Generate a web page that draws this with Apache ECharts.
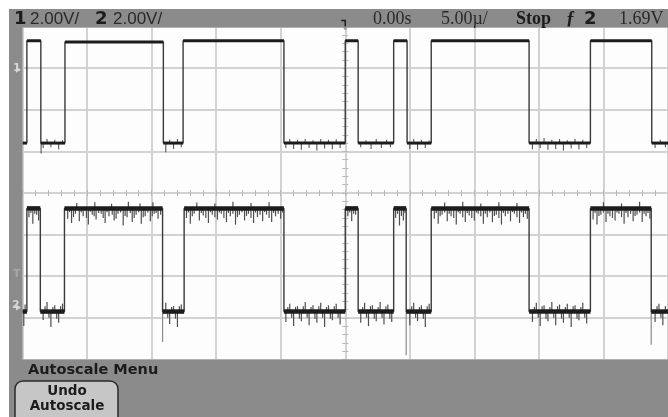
<!DOCTYPE html>
<html>
<head>
<meta charset="utf-8">
<script src="https://cdn.jsdelivr.net/npm/echarts@6.0.0/dist/echarts.min.js"></script>
<style>
  html, body { margin: 0; padding: 0; background: #ffffff; }
  #scope { width: 668px; height: 417px; }
</style>
</head>
<body>
<div id="scope"></div>
<script>
// Timebase 5 us/div (10 divisions), vertical 8 divisions, values in divisions from screen centre.
const timeRange = [-25, 25];
const divRange = [-4, 4];

// Channel 1: edge times (us) and the level (div) held in each segment between edges
const ch1Edges = [-24.66, -23.58, -21.71, -14.09, -12.56, -4.75, 0, 1.0, 3.75, 4.79, 6.66, 14.24, 18.99, 23.74];
const ch1Levels = [1.2, 3.66, 1.2, 3.63, 1.2, 3.66, 1.2, 3.66, 1.2, 3.66, 1.2, 3.66, 1.2, 3.66, 1.2];

// Channel 2: edge times (us) and levels (div)
const ch2Edges = [-24.66, -23.62, -21.75, -14.15, -12.48, -4.75, 0, 1.0, 3.75, 4.72, 6.66, 14.24, 18.99, 23.7];
const ch2Levels = [-2.85, -0.37, -2.85, -0.37, -2.85, -0.37, -2.85, -0.37, -2.85, -0.37, -2.85, -0.37, -2.85, -0.37, -2.85];

// Noise excursions [time, tip] on channel 1 low level
const ch1Noise = [
  [-23.4, 1.08], [-23.1, 1.3], [-22.8, 1.1], [-22.5, 1.28], [-22.2, 1.05], [-21.9, 1.27],
  [-13.9, 0.98], [-13.6, 1.28], [-13.3, 1.06], [-13.0, 1.3], [-12.7, 1.1],
  [-4.6, 1.08], [-4.3, 1.3], [-4.0, 1.06], [-3.7, 1.28], [-3.4, 1.04], [-3.1, 1.3], [-2.8, 1.08],
  [-2.5, 1.27], [-2.2, 1.02], [-1.9, 1.3], [-1.6, 1.07], [-1.3, 1.28], [-1.0, 1.05], [-0.7, 1.29], [-0.4, 1.08],
  [1.2, 1.1], [1.6, 1.27], [2.0, 1.06], [2.4, 1.3], [2.8, 1.08], [3.2, 1.28], [3.5, 1.1],
  [5.0, 1.06], [5.3, 1.3], [5.6, 1.04], [5.9, 1.28], [6.2, 1.08], [6.5, 1.26],
  [14.5, 1.05], [14.8, 1.3], [15.1, 1.08], [15.4, 1.32], [15.7, 1.04], [16.0, 1.28], [16.3, 1.06],
  [16.6, 1.3], [16.9, 1.02], [17.2, 1.27], [17.5, 1.07], [17.8, 1.3], [18.1, 1.05], [18.4, 1.28], [18.7, 1.08],
  [24.0, 1.08], [24.4, 1.28], [24.8, 1.1],
  [-23.56, 0.95]
];

// Noise excursions [time, tip] on channel 2 high level
const ch2HighNoise = [
  [-24.5, -0.58], [-24.35, -0.48], [-24.2, -0.74], [-24.05, -0.5], [-23.9, -0.52], [-23.75, -0.66],
  [-21.5, -0.62], [-21.35, -0.46], [-21.2, -0.72], [-21.05, -0.58], [-20.9, -0.5], [-20.6, -0.68],
  [-20.45, -0.47], [-20.3, -0.56], [-20.05, -0.6], [-19.9, -0.76], [-19.75, -0.45], [-19.6, -0.52],
  [-19.45, -0.56], [-19.3, -0.64], [-19.1, -0.48], [-18.9, -0.5], [-18.75, -0.6], [-18.6, -0.72],
  [-18.45, -0.46], [-18.3, -0.56], [-18.05, -0.52], [-17.9, -0.66], [-17.75, -0.62], [-17.6, -0.5],
  [-17.4, -0.47], [-17.2, -0.78], [-17.05, -0.55], [-16.9, -0.58], [-16.65, -0.48], [-16.5, -0.7],
  [-16.35, -0.6], [-16.2, -0.52], [-16.0, -0.46], [-15.8, -0.74], [-15.65, -0.58], [-15.5, -0.56],
  [-15.3, -0.47], [-15.1, -0.68], [-14.95, -0.56], [-14.8, -0.5], [-14.65, -0.48], [-14.5, -0.62], [-14.3, -0.52],
  [-20.8, -0.24], [-19.4, -0.22], [-18.1, -0.26], [-16.8, -0.21], [-15.9, -0.25], [-14.9, -0.22],
  [-12.3, -0.6], [-12.15, -0.47], [-12.0, -0.74], [-11.85, -0.56], [-11.7, -0.5], [-11.3, -0.66],
  [-11.15, -0.48], [-11.0, -0.54], [-10.8, -0.6], [-10.6, -0.72], [-10.45, -0.46], [-10.3, -0.52],
  [-10.1, -0.58], [-9.9, -0.64], [-9.75, -0.47], [-9.6, -0.5], [-9.4, -0.6], [-9.2, -0.7],
  [-9.05, -0.48], [-8.9, -0.56], [-8.7, -0.5], [-8.5, -0.76], [-8.35, -0.58], [-8.2, -0.52],
  [-8.0, -0.46], [-7.8, -0.66], [-7.65, -0.55], [-7.5, -0.5], [-7.3, -0.6], [-7.1, -0.72],
  [-6.95, -0.47], [-6.8, -0.58], [-6.6, -0.52], [-6.4, -0.68], [-6.25, -0.46], [-6.1, -0.52],
  [-5.9, -0.6], [-5.7, -0.7], [-5.55, -0.48], [-5.4, -0.56], [-5.2, -0.5], [-5.0, -0.62], [-4.85, -0.47],
  [-11.5, -0.23], [-10.1, -0.25], [-8.7, -0.21], [-7.3, -0.24], [-5.9, -0.22],
  [0.2, -0.56], [0.35, -0.47], [0.5, -0.68], [0.65, -0.5], [0.8, -0.52],
  [3.9, -0.6], [4.05, -0.5], [4.2, -0.78], [4.35, -0.55], [4.5, -0.66], [4.62, -0.48],
  [6.9, -0.62], [7.05, -0.48], [7.2, -0.74], [7.35, -0.56], [7.5, -0.52], [7.7, -0.47], [7.9, -0.68],
  [8.05, -0.5], [8.2, -0.56], [8.4, -0.6], [8.6, -0.76], [8.75, -0.46], [8.9, -0.5], [9.1, -0.58],
  [9.3, -0.7], [9.45, -0.48], [9.6, -0.54], [9.8, -0.6], [10.0, -0.66], [10.15, -0.47], [10.3, -0.5],
  [10.5, -0.56], [10.7, -0.74], [10.85, -0.5], [11.0, -0.58], [11.2, -0.47], [11.4, -0.7], [11.55, -0.55],
  [11.7, -0.52], [11.9, -0.6], [12.1, -0.76], [12.25, -0.48], [12.4, -0.56], [12.6, -0.5], [12.8, -0.68],
  [12.95, -0.46], [13.1, -0.5], [13.3, -0.58], [13.5, -0.72], [13.65, -0.47], [13.8, -0.58], [13.95, -0.5], [14.1, -0.62],
  [7.7, -0.23], [9.1, -0.21], [10.5, -0.25], [11.9, -0.22], [13.3, -0.24],
  [19.2, -0.64], [19.35, -0.48], [19.5, -0.76], [19.65, -0.55], [19.8, -0.52], [20.0, -0.47], [20.2, -0.7],
  [20.35, -0.5], [20.5, -0.56], [20.7, -0.6], [20.9, -0.66], [21.05, -0.47], [21.2, -0.5], [21.4, -0.58],
  [21.6, -0.74], [21.75, -0.48], [21.9, -0.58], [22.1, -0.5], [22.3, -0.68], [22.45, -0.55], [22.6, -0.52],
  [22.8, -0.47], [23.0, -0.7], [23.15, -0.5], [23.3, -0.56], [23.45, -0.48], [23.6, -0.62],
  [20.0, -0.22], [21.4, -0.25], [22.8, -0.21]
];

// Noise excursions [time, tip] on channel 2 low level
const ch2LowNoise = [
  [-24.9, -3.2], [-24.8, -2.68],
  [-23.4, -3.05], [-23.25, -2.72], [-23.1, -2.62], [-22.95, -3.0], [-22.8, -3.22], [-22.65, -2.74],
  [-22.5, -2.7], [-22.35, -3.02], [-22.2, -3.12], [-22.05, -2.72], [-21.9, -2.66],
  [-13.9, -2.64], [-13.75, -3.0], [-13.6, -3.15], [-13.45, -2.74], [-13.3, -2.72], [-13.15, -3.02],
  [-13.0, -3.22], [-12.85, -2.72], [-12.7, -2.68],
  [-4.6, -3.1], [-4.45, -2.74], [-4.3, -2.66], [-4.15, -3.0], [-4.0, -3.2], [-3.85, -2.74], [-3.7, -2.72],
  [-3.55, -3.02], [-3.4, -3.08], [-3.25, -2.72], [-3.1, -2.62], [-2.95, -3.0], [-2.8, -3.18], [-2.65, -2.74],
  [-2.5, -2.7], [-2.35, -3.02], [-2.2, -3.12], [-2.05, -2.72], [-1.9, -2.64], [-1.75, -3.0], [-1.6, -3.22],
  [-1.45, -2.74], [-1.3, -2.7], [-1.15, -3.02], [-1.0, -3.06], [-0.85, -2.72], [-0.7, -2.66], [-0.55, -3.0], [-0.4, -3.16],
  [1.2, -3.12], [1.35, -2.74], [1.5, -2.64], [1.65, -3.0], [1.8, -3.2], [1.95, -2.72], [2.1, -2.7],
  [2.25, -3.02], [2.4, -3.08], [2.55, -2.74], [2.7, -2.62], [2.85, -3.0], [3.0, -3.16], [3.15, -2.72],
  [3.3, -2.68], [3.45, -3.02], [3.6, -3.1],
  [5.0, -3.18], [5.15, -2.72], [5.3, -2.64], [5.45, -3.0], [5.6, -3.08], [5.75, -2.74], [5.9, -2.7],
  [6.05, -3.02], [6.2, -3.22], [6.35, -2.72], [6.5, -2.66],
  [14.5, -3.1], [14.65, -2.74], [14.8, -2.64], [14.95, -3.0], [15.1, -3.2], [15.25, -2.72], [15.4, -2.7],
  [15.55, -3.02], [15.7, -3.08], [15.85, -2.74], [16.0, -2.62], [16.15, -3.0], [16.3, -3.18], [16.45, -2.72],
  [16.6, -2.68], [16.75, -3.02], [16.9, -3.12], [17.05, -2.74], [17.2, -2.66], [17.35, -3.0], [17.5, -3.22],
  [17.65, -2.72], [17.8, -2.7], [17.95, -3.02], [18.1, -3.06], [18.25, -2.74], [18.4, -2.64], [18.55, -3.0], [18.7, -3.14],
  [24.0, -3.1], [24.15, -2.72], [24.3, -2.66], [24.45, -3.0], [24.6, -3.18], [24.8, -2.72]
];

// Fast glitches on falling edges of channel 2 [time, tip]
const ch2Glitches = [[-14.15, -3.58], [4.72, -3.9], [23.7, -3.65]];

// Status line texts
const statusLeft = ['1', '2.00V/', '2', '2.00V/'];
const statusRight = ['0.00s', '5.00\u00b5/', 'Stop', '\u0192', '2', '1.69V'];
const menuTitle = 'Autoscale Menu';
const buttonLines = ['Undo', 'Autoscale'];

// Step trace through the edges, and the flat segments between them
function stepTrace(edges, levels) {
  const pts = [[timeRange[0], levels[0]]];
  edges.forEach((t, i) => { pts.push([t, levels[i]]); pts.push([t, levels[i + 1]]); });
  pts.push([timeRange[1], levels[levels.length - 1]]);
  return pts;
}
function segments(edges, levels) {
  const b = [timeRange[0]].concat(edges, [timeRange[1]]);
  return levels.map((v, i) => [b[i], b[i + 1], v]);
}
function withBase(list, base) { return list.map(p => [p[0], base, p[1]]); }

function vLine(color, width) {
  return function (params, api) {
    const a = api.coord([api.value(0), api.value(1)]);
    const b = api.coord([api.value(0), api.value(2)]);
    return { type: 'line', shape: { x1: a[0], y1: a[1], x2: b[0], y2: b[1] },
             style: { stroke: color, lineWidth: width } };
  };
}
function hBand(color, width) {
  return function (params, api) {
    const a = api.coord([api.value(0), api.value(2)]);
    const b = api.coord([api.value(1), api.value(2)]);
    return { type: 'line', shape: { x1: a[0], y1: a[1], x2: b[0], y2: b[1] },
             style: { stroke: color, lineWidth: width } };
  };
}

const chart = echarts.init(document.getElementById('scope'), null, { renderer: 'canvas' });

const GRID = { left: 22.5, top: 26.6, width: 653, height: 332.8 };
const gridLine = { show: true, lineStyle: { color: '#d2d2d2', width: 2 } };
const tickStyle = { color: '#b8b8b8', width: 1 };

const xBase = { type: 'value', min: timeRange[0], max: timeRange[1], interval: 5,
  axisLabel: { show: false }, gridIndex: 0 };
const yBase = { type: 'value', min: divRange[0], max: divRange[1], interval: 1,
  axisLabel: { show: false }, gridIndex: 0 };

const option = {
  backgroundColor: '#ffffff',
  animation: false,
  grid: { left: GRID.left, top: GRID.top, width: GRID.width, height: GRID.height,
          show: true, backgroundColor: '#fdfdfd', borderWidth: 0 },
  xAxis: [
    Object.assign({}, xBase, { position: 'bottom', splitLine: gridLine,
      axisLine: { show: true, onZero: true, lineStyle: { color: '#d2d2d2', width: 2 } },
      axisTick: { show: true, length: 3, lineStyle: tickStyle },
      minorTick: { show: true, splitNumber: 5, length: 3, lineStyle: tickStyle } }),
    Object.assign({}, xBase, { position: 'top', splitLine: { show: false },
      axisLine: { show: false, onZero: true },
      axisTick: { show: true, length: 3, lineStyle: tickStyle },
      minorTick: { show: true, splitNumber: 5, length: 3, lineStyle: tickStyle } })
  ],
  yAxis: [
    Object.assign({}, yBase, { position: 'left', splitLine: gridLine,
      axisLine: { show: true, onZero: true, lineStyle: { color: '#d2d2d2', width: 2 } },
      axisTick: { show: true, length: 3, lineStyle: tickStyle },
      minorTick: { show: true, splitNumber: 5, length: 3, lineStyle: tickStyle } }),
    Object.assign({}, yBase, { position: 'right', splitLine: { show: false },
      axisLine: { show: false, onZero: true },
      axisTick: { show: true, length: 3, lineStyle: tickStyle },
      minorTick: { show: true, splitNumber: 5, length: 3, lineStyle: tickStyle } })
  ],
  series: [
    { name: 'ch1 noise', type: 'custom', renderItem: vLine('#555555', 1.1),
      encode: { x: 0, y: [1, 2] }, data: withBase(ch1Noise, 1.2), z: 2 },
    { name: 'ch2 noise high', type: 'custom', renderItem: vLine('#4e4e4e', 1.2),
      encode: { x: 0, y: [1, 2] }, data: withBase(ch2HighNoise, -0.37), z: 2 },
    { name: 'ch2 noise low', type: 'custom', renderItem: vLine('#4e4e4e', 1.2),
      encode: { x: 0, y: [1, 2] }, data: withBase(ch2LowNoise, -2.85), z: 2 },
    { name: 'ch2 glitch', type: 'custom', renderItem: vLine('#8a8a8a', 1.2),
      encode: { x: 0, y: [1, 2] }, data: withBase(ch2Glitches, -2.85), z: 2 },
    { name: 'ch1', type: 'line', data: stepTrace(ch1Edges, ch1Levels), showSymbol: false,
      lineStyle: { color: '#3a3a3a', width: 1.4 }, z: 3 },
    { name: 'ch2', type: 'line', data: stepTrace(ch2Edges, ch2Levels), showSymbol: false,
      lineStyle: { color: '#3a3a3a', width: 1.4 }, z: 3 },
    { name: 'ch1 levels', type: 'custom', renderItem: hBand('#1c1c1c', 3),
      encode: { x: [0, 1], y: 2 }, data: segments(ch1Edges, ch1Levels), z: 4 },
    { name: 'ch2 levels', type: 'custom', renderItem: hBand('#1c1c1c', 4.5),
      encode: { x: [0, 1], y: 2 }, data: segments(ch2Edges, ch2Levels), z: 4 }
  ]
};
chart.setOption(option);

// Instrument frame: status line, left marker strip, softkey menu
const frame = '#8b8b8b';
const ink = '#1c1c1c';
const txt = (x, y, s, font, fill, align) => ({ type: 'text', x: x, y: y, z: 20,
  style: { text: s, font: font, fill: fill || ink, textAlign: align || 'left', textVerticalAlign: 'middle' } });

const trig = chart.convertToPixel({ gridIndex: 0 }, [0, divRange[1]]);
const ch1Mark = chart.convertToPixel({ gridIndex: 0 }, [timeRange[0], 2.96]);
const trigLvl = chart.convertToPixel({ gridIndex: 0 }, [timeRange[0], -1.95]);
const ch2Mark = chart.convertToPixel({ gridIndex: 0 }, [timeRange[0], -2.75]);

chart.setOption({
  graphic: [
    { type: 'rect', z: 10, shape: { x: 9, y: 9, width: 659, height: 18.5 }, style: { fill: frame } },
    { type: 'rect', z: 10, shape: { x: 9, y: 9, width: 13.5, height: 408 }, style: { fill: frame } },
    { type: 'rect', z: 10, shape: { x: 9, y: 359.4, width: 659, height: 58 }, style: { fill: frame } },
    txt(14, 19, statusLeft[0], 'bold 18px "DejaVu Sans"'),
    txt(30, 19, statusLeft[1], '17px "Liberation Sans"', '#2a2a2a'),
    txt(95, 19, statusLeft[2], 'bold 18px "DejaVu Sans"'),
    txt(113, 19, statusLeft[3], '17px "Liberation Sans"', '#2a2a2a'),
    txt(373, 19, statusRight[0], '18px "Liberation Serif"', '#2a2a2a'),
    txt(441, 19, statusRight[1], '18px "Liberation Serif"', '#2a2a2a'),
    txt(516, 19, statusRight[2], 'bold 18px "Liberation Serif"'),
    txt(566, 19, statusRight[3], 'italic bold 18px "Liberation Serif"'),
    txt(584, 19, statusRight[4], 'bold 18px "DejaVu Sans"'),
    txt(619, 19, statusRight[5], '18px "Liberation Serif"', '#2a2a2a'),
    // trigger position marker
    { type: 'polyline', z: 21, shape: { points: [[trig[0] - 4, trig[1] - 6], [trig[0], trig[1] - 6], [trig[0], trig[1] + 2]] },
      style: { stroke: ink, lineWidth: 1.5, fill: null } },
    { type: 'polygon', z: 21, shape: { points: [[trig[0] - 3, trig[1]], [trig[0] + 3, trig[1]], [trig[0], trig[1] + 4]] },
      style: { fill: '#9a9a9a' } },
    // channel / trigger level markers in the left strip
    txt(13, ch1Mark[1] - 2, '1', 'bold 11px "DejaVu Sans"', '#d6d6d6'),
    { type: 'polygon', z: 21, shape: { points: [[16, ch1Mark[1] - 3], [21, ch1Mark[1]], [16, ch1Mark[1] + 3]] }, style: { fill: '#d6d6d6' } },
    txt(13, trigLvl[1], 'T', 'bold 11px "DejaVu Sans"', '#a8a8a8'),
    txt(12, ch2Mark[1] - 2, '2', 'bold 11px "DejaVu Sans"', '#d6d6d6'),
    { type: 'polygon', z: 21, shape: { points: [[16, ch2Mark[1] - 3], [21, ch2Mark[1]], [16, ch2Mark[1] + 3]] }, style: { fill: '#d6d6d6' } },
    // softkey menu
    txt(28, 370, menuTitle, 'bold 14.5px "DejaVu Sans"'),
    { type: 'rect', z: 20, shape: { x: 15, y: 381, width: 103, height: 44, r: 8 },
      style: { fill: '#c6c6c6', stroke: '#2a2a2a', lineWidth: 1.5 } },
    txt(67, 391, buttonLines[0], 'bold 13.5px "DejaVu Sans"', ink, 'center'),
    txt(67, 406.5, buttonLines[1], 'bold 13.5px "DejaVu Sans"', ink, 'center')
  ]
});
</script>
</body>
</html>
